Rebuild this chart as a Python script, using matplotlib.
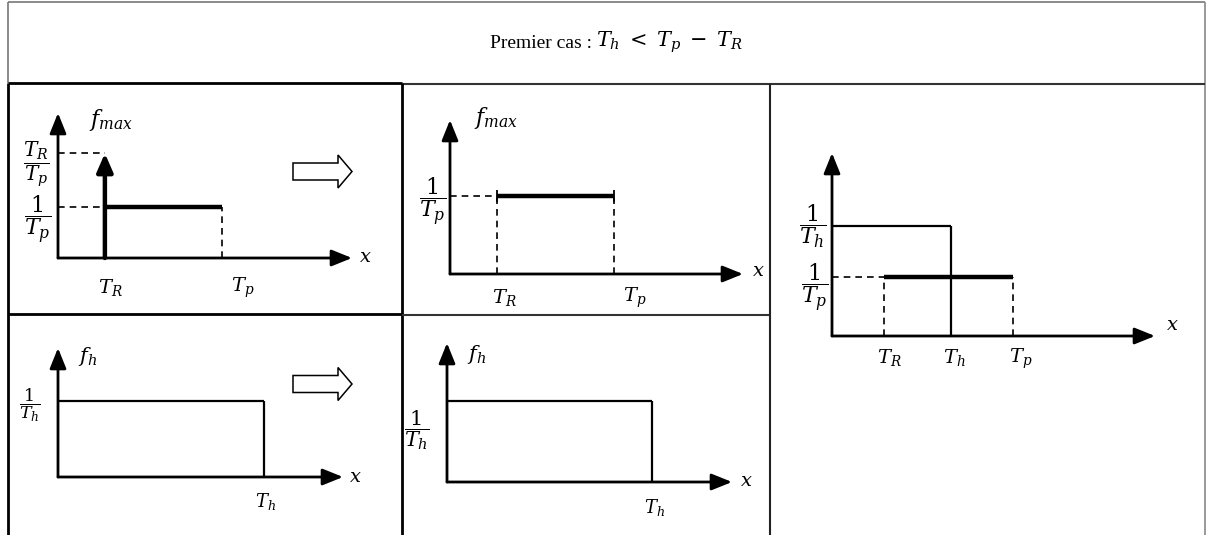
import matplotlib
matplotlib.use("Agg")
import matplotlib.pyplot as plt
from matplotlib.patches import FancyArrow

plt.rcParams['font.family'] = ['Liberation Serif', 'DejaVu Serif']
plt.rcParams['mathtext.fontset'] = 'dejavuserif'

# ---------------- data (schematic values) ----------------
T_R = 1.0
T_p = 3.5
T_h = 2.3
lvl_inv_Tp = 1.0        # height 1/T_p
lvl_TR_over_Tp = 2.05   # height T_R/T_p (Dirac weight, drawn as spike)
lvl_inv_Th = 1.86       # height 1/T_h

title_prefix = "Premier cas :"
title_math = r"$T_h\;<\;T_p\;-\;T_R$"
lab_TR = r"$T_R$"
lab_Tp = r"$T_p$"
lab_Th = r"$T_h$"
lab_x = r"$x$"
lab_fmax = r"$f_{max}$"
lab_fh = r"$f_h$"
frac_TR_Tp = r"$\dfrac{T_R}{T_p}$"
frac_1_Tp = r"$\dfrac{1}{T_p}$"
frac_1_Th = r"$\dfrac{1}{T_h}$"

# ---------------- layout ----------------
W, H = 1208, 535
fig = plt.figure(figsize=(W / 100, H / 100), dpi=100)
bg = fig.add_axes([0, 0, 1, 1])
bg.set_xlim(0, W)
bg.set_ylim(H, 0)
bg.axis('off')

def hline(y, x0, x1, c='black', lw=1.5):
    bg.plot([x0, x1], [y, y], color=c, lw=lw, solid_capstyle='butt')

def vline(x, y0, y1, c='black', lw=1.5):
    bg.plot([x, x], [y0, y1], color=c, lw=lw, solid_capstyle='butt')

# table grid
hline(2, 8, 1205, c='#777777', lw=1.2)
vline(8, 2, 83, c='#777777', lw=1.2)
vline(1205, 2, 535, c='#888888', lw=1.2)
hline(83, 8, 402, lw=2)
hline(84, 402, 1205, c='#333333', lw=1.5)
vline(8, 83, 535, lw=2)
vline(402, 83, 535, lw=2)
hline(314, 8, 402, lw=2)
hline(315, 402, 770, c='#333333', lw=1.5)
vline(770, 84, 535, c='#222222', lw=1.5)

bg.text(490, 43, title_prefix, ha='left', va='center', fontsize=14)
bg.text(596, 42, title_math, ha='left', va='center', fontsize=15)

# hollow "implies" arrows
for yc in (171.5, 384):
    bg.add_patch(FancyArrow(293, yc, 59, 0, width=17, head_width=33, head_length=14,
                            length_includes_head=True, fill=False, ec='black', lw=1.1))

def panel(origin, tip, xmax, ymax):
    ox, oy = origin
    tx, ty = tip
    ax = fig.add_axes([ox / W, 1 - oy / H, (tx - ox) / W, (oy - ty) / H])
    ax.set_xlim(0, xmax)
    ax.set_ylim(0, ymax)
    ax.axis('off')
    ax.patch.set_alpha(0)
    ap = dict(arrowstyle='-|>,head_length=0.62,head_width=0.25', lw=2, color='black',
              shrinkA=0, shrinkB=0, mutation_scale=20)
    ax.annotate('', xy=(1, 0), xytext=(0, 0), xycoords='axes fraction', arrowprops=ap)
    ax.annotate('', xy=(0, 1), xytext=(0, 0), xycoords='axes fraction', arrowprops=ap)
    return ax

def lab(ax, s, xy, off, size=14, xycoords='data'):
    ax.annotate(s, xy=xy, xycoords=xycoords, xytext=off, textcoords='offset pixels',
                ha='center', va='center', fontsize=size, annotation_clip=False)

dash = dict(color='black', lw=1.2, ls=(0, (4, 3)), clip_on=False)
thick = dict(color='black', lw=3.2, clip_on=False, solid_capstyle='butt')
thin = dict(color='black', lw=1.6, clip_on=False, solid_capstyle='butt')

FR = 16  # fraction font size

# ---- Panel 1: f_max with Dirac at T_R ----
a1 = panel((58, 258), (352, 113), 6.27, 2.84)
a1.annotate('', xy=(T_R, lvl_TR_over_Tp), xytext=(T_R, 0),
            arrowprops=dict(arrowstyle='-|>,head_length=0.55,head_width=0.24', lw=3.2,
                            color='black', shrinkA=0, shrinkB=0, mutation_scale=20),
            annotation_clip=False)
a1.plot([0, T_R], [lvl_TR_over_Tp, lvl_TR_over_Tp], **dash)
a1.plot([0, T_R], [lvl_inv_Tp, lvl_inv_Tp], **dash)
a1.plot([T_R, T_p], [lvl_inv_Tp, lvl_inv_Tp], **thick)
a1.plot([T_p, T_p], [0, lvl_inv_Tp], **dash)
lab(a1, lab_TR, (T_R, 0), (5, -29))
lab(a1, lab_Tp, (T_p, 0), (21, -30))
lab(a1, lab_x, (1, 0), (13, 1), xycoords='axes fraction')
lab(a1, lab_fmax, (0, 1), (53, -7), size=16, xycoords='axes fraction')
lab(a1, frac_TR_Tp, (0, lvl_TR_over_Tp), (-22, -12), size=14.5)
lab(a1, frac_1_Tp, (0, lvl_inv_Tp), (-20, -13), size=FR)

# ---- Panel 2: f_max continuous part ----
a2 = panel((450, 274), (743, 120), 6.25, 1.97)
a2.plot([0, T_R], [lvl_inv_Tp, lvl_inv_Tp], **dash)
a2.plot([T_R, T_p], [lvl_inv_Tp, lvl_inv_Tp], **thick)
a2.plot([T_R, T_p], [lvl_inv_Tp, lvl_inv_Tp], ls='none', marker='|', ms=8, mew=1.3,
        color='black', clip_on=False)
a2.plot([T_R, T_R], [0, lvl_inv_Tp], **dash)
a2.plot([T_p, T_p], [0, lvl_inv_Tp], **dash)
lab(a2, lab_TR, (T_R, 0), (8, -24))
lab(a2, lab_Tp, (T_p, 0), (21, -24))
lab(a2, lab_x, (1, 0), (15, 3), xycoords='axes fraction')
lab(a2, lab_fmax, (0, 1), (46, 2), size=16, xycoords='axes fraction')
lab(a2, frac_1_Tp, (0, lvl_inv_Tp), (-17, -6), size=FR)

# ---- Panel 3: both densities superposed ----
a3 = panel((832, 336), (1155, 153), 6.25, 3.10)
a3.plot([0, T_h], [lvl_inv_Th, lvl_inv_Th], **thin)
a3.plot([T_h, T_h], [0, lvl_inv_Th], **thin)
a3.plot([0, T_R], [lvl_inv_Tp, lvl_inv_Tp], **dash)
a3.plot([T_R, T_p], [lvl_inv_Tp, lvl_inv_Tp], **thick)
a3.plot([T_R, T_R], [0, lvl_inv_Tp], **dash)
a3.plot([T_p, T_p], [0, lvl_inv_Tp], **dash)
lab(a3, lab_TR, (T_R, 0), (6, -22))
lab(a3, lab_Th, (T_h, 0), (3, -22))
lab(a3, lab_Tp, (T_p, 0), (8, -23))
lab(a3, lab_x, (1, 0), (17, 11), xycoords='axes fraction')
lab(a3, frac_1_Th, (0, lvl_inv_Th), (-19, 0), size=FR)
lab(a3, frac_1_Tp, (0, lvl_inv_Tp), (-17, -11), size=FR)

# ---- Panel 4: f_h ----
a4 = panel((58, 477), (343, 348), 3.18, 3.16)
a4.plot([0, T_h], [lvl_inv_Th, lvl_inv_Th], **thin)
a4.plot([T_h, T_h], [0, lvl_inv_Th], **thin)
lab(a4, lab_Th, (T_h, 0), (1, -25), size=13)
lab(a4, lab_x, (1, 0), (12, 0), xycoords='axes fraction')
lab(a4, lab_fh, (0, 1), (30, -9), size=15, xycoords='axes fraction')
lab(a4, frac_1_Th, (0, lvl_inv_Th), (-28, -4), size=12.5)

# ---- Panel 5: f_h ----
a5 = panel((447, 482), (732, 343), 3.20, 3.19)
a5.plot([0, T_h], [lvl_inv_Th, lvl_inv_Th], **thin)
a5.plot([T_h, T_h], [0, lvl_inv_Th], **thin)
lab(a5, lab_Th, (T_h, 0), (3, -25), size=13)
lab(a5, lab_x, (1, 0), (14, 0), xycoords='axes fraction')
lab(a5, lab_fh, (0, 1), (30, -12), size=15, xycoords='axes fraction')
lab(a5, frac_1_Th, (0, lvl_inv_Th), (-30, -29), size=15)

fig.savefig('out.png', dpi=100)
